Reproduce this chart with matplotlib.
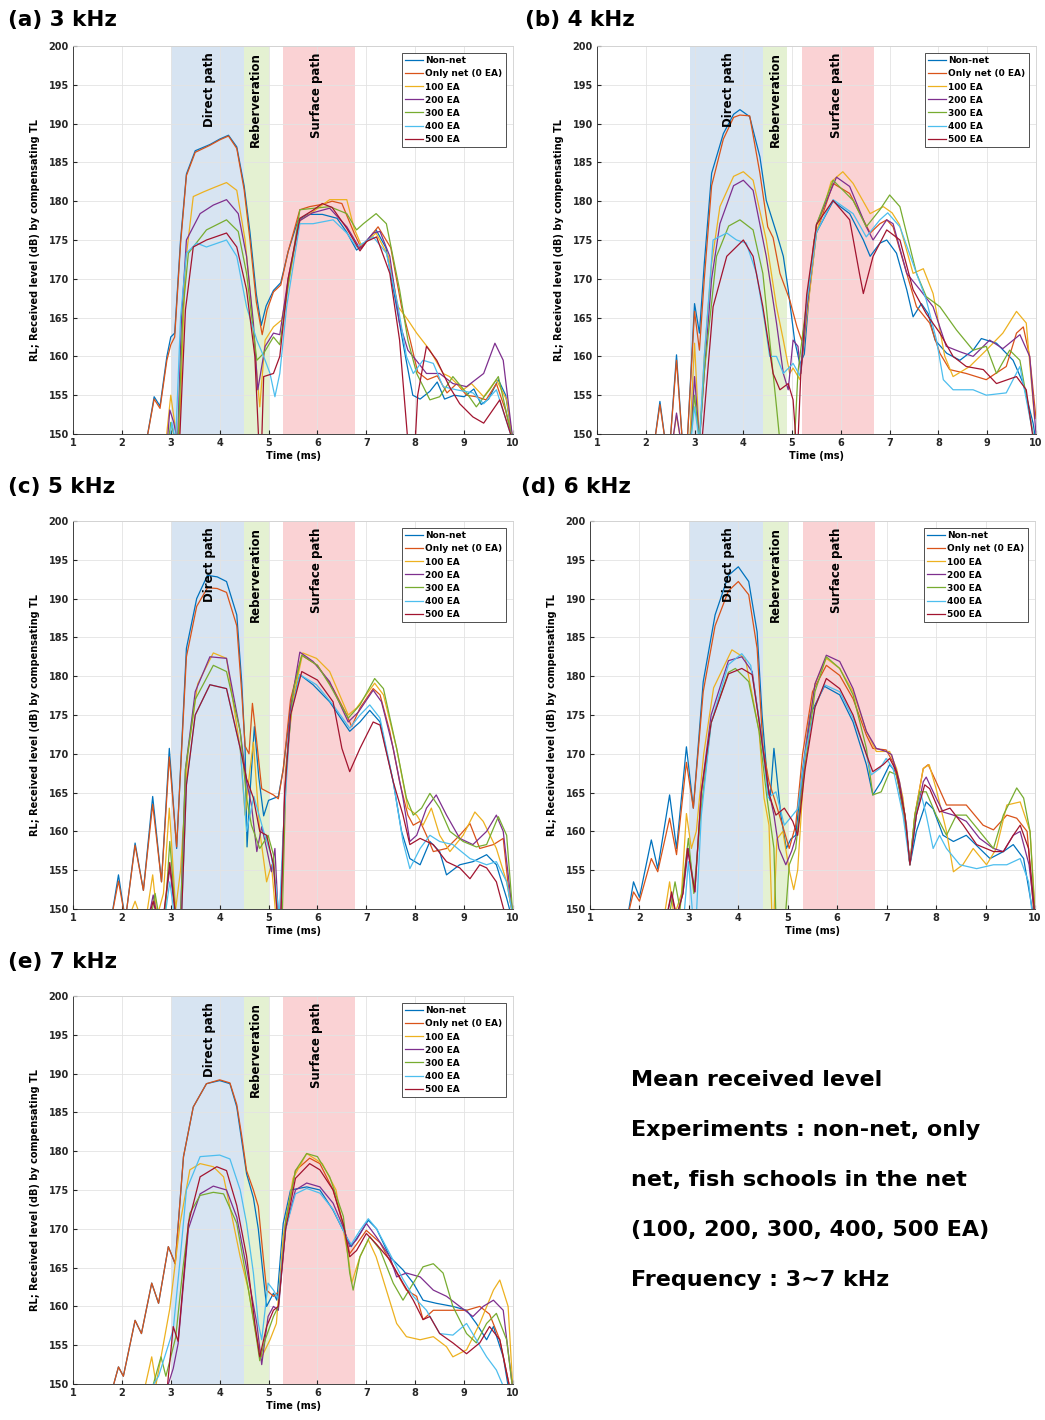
import matplotlib
matplotlib.use('Agg')
import matplotlib.pyplot as plt

# series names and MATLAB default colours
names = ['Non-net', 'Only net (0 EA)', '100 EA', '200 EA', '300 EA', '400 EA', '500 EA']
colors = ['#0072BD', '#D95319', '#EDB120', '#7E2F8E', '#77AC30', '#4DBEEE', '#A2142F']

# (time ms, RL dB); 149 means the curve leaves the axes
# ---- (a) 3 kHz
a_nonnet = [(2.5,149),(2.66,154.8),(2.78,153.6),(2.92,160),(3.0,162.5),(3.08,163),(3.2,175),(3.32,183.5),(3.5,186.5),(3.8,187.3),(4.0,188),(4.18,188.5),(4.35,187),(4.5,182),(4.62,176),(4.75,168),(4.85,164),(4.95,166.5),(5.1,168.5),(5.25,169.5),(5.4,173.5),(5.6,177.5),(5.8,178.3),(6.1,178.3),(6.4,177.8),(6.6,176),(6.8,173.7),(6.95,174.5),(7.2,176.3),(7.4,174),(7.6,167),(7.8,160),(7.95,155),(8.1,154.5),(8.3,155.5),(8.45,156.7),(8.6,154.5),(8.8,155),(9.0,154.8),(9.2,155.8),(9.35,153.8),(9.5,154.5),(9.7,157),(9.85,155),(10.0,149)]
a_onlynet = [(2.5,149),(2.66,154.5),(2.78,153.3),(2.92,159.5),(3.0,161.5),(3.08,162.5),(3.2,174.5),(3.32,183.3),(3.5,186.3),(3.8,187.2),(4.0,187.9),(4.18,188.4),(4.35,186.8),(4.5,181.5),(4.62,175),(4.75,167),(4.87,162.8),(4.97,166),(5.1,168.3),(5.25,169.2),(5.4,173.5),(5.64,178.9),(5.84,179.3),(6.1,179.6),(6.3,180),(6.5,179.7),(6.75,175.9),(6.9,173.9),(7.14,175.9),(7.24,176.7),(7.5,174),(7.72,166.4),(7.9,162),(8.05,158),(8.25,157),(8.45,157.5),(8.65,155.3),(8.85,156.5),(9.05,155),(9.25,154.8),(9.45,154.4),(9.66,156.5),(9.85,153),(10.0,149)]
a_100 = [(2.9,149),(3.0,155),(3.1,150.5),(3.17,149),(3.3,172),(3.46,180.6),(3.67,181.2),(3.9,181.8),(4.14,182.4),(4.35,181.4),(4.52,175),(4.65,166.4),(4.76,157.8),(4.82,153.5),(4.93,162.1),(5.1,163.8),(5.27,164.7),(5.44,170.7),(5.64,177.5),(5.9,178.6),(6.25,180.2),(6.6,180.2),(6.75,176.5),(6.9,174.3),(7.2,175.9),(7.45,172.9),(7.65,166.4),(7.85,164.7),(8.03,163),(8.3,160.8),(8.57,157.8),(8.7,157.4),(8.98,155.7),(9.15,156.5),(9.4,154.8),(9.66,157),(9.87,154.4),(10.0,149)]
a_200 = [(2.93,149),(2.98,153.1),(3.06,151.5),(3.14,149),(3.22,165),(3.32,175),(3.6,178.4),(3.87,179.5),(4.14,180.2),(4.38,178.4),(4.55,172.9),(4.69,164.3),(4.78,155.7),(4.93,161.3),(5.1,163),(5.23,162.8),(5.4,170),(5.64,177.5),(5.9,178.5),(6.25,179.1),(6.6,176.7),(6.87,173.9),(7.14,175.9),(7.28,176.1),(7.48,172.9),(7.68,164.3),(7.85,160.8),(8.02,159.5),(8.23,157.8),(8.5,157.8),(8.77,156.5),(9.05,156.1),(9.4,157.8),(9.63,161.7),(9.8,159.5),(10.0,149)]
a_300 = [(2.95,149),(3.0,151.5),(3.1,149),(3.15,149),(3.25,166),(3.36,173.3),(3.73,176.3),(4.14,177.6),(4.38,176.1),(4.55,170.7),(4.76,159.5),(4.9,160.4),(5.1,162.5),(5.23,161.5),(5.4,169),(5.64,178.9),(6.25,179.3),(6.6,178.4),(6.8,176.3),(6.94,177.1),(7.2,178.4),(7.41,177.1),(7.68,168.6),(7.85,162.1),(8.03,157.8),(8.3,154.4),(8.5,154.8),(8.77,157.4),(9.05,155.3),(9.25,153.5),(9.52,155.7),(9.7,157.4),(10.0,149)]
a_400 = [(2.98,149),(3.02,151.5),(3.1,149),(3.2,165),(3.32,173.3),(3.53,174.6),(3.73,174.1),(4.14,175),(4.35,172.9),(4.55,166.4),(4.76,162.1),(4.9,160),(5.03,157.8),(5.13,154.8),(5.23,157.8),(5.37,166.4),(5.64,177.1),(5.91,177.1),(6.32,177.6),(6.6,175.9),(6.8,174.1),(7.14,175.4),(7.41,173.3),(7.65,166.4),(7.82,160),(7.96,157.8),(8.16,159.5),(8.37,159.1),(8.57,156.1),(8.84,155.7),(9.18,155.3),(9.4,153.9),(9.66,155.7),(10.0,149)]
a_500 = [(3.18,149),(3.3,166),(3.46,174.1),(3.73,175),(4.14,175.9),(4.35,174.1),(4.55,168.6),(4.72,160),(4.8,149),(4.86,149),(4.9,157.4),(5.1,157.8),(5.23,160),(5.4,170),(5.64,177.8),(5.9,178.8),(6.1,179.7),(6.3,179.2),(6.6,176.5),(6.87,173.6),(7.0,174.8),(7.21,175.4),(7.48,170.7),(7.68,162.1),(7.85,149),(8.0,149),(8.05,155),(8.23,161.3),(8.44,159.5),(8.7,156.1),(8.91,153.9),(9.18,152.2),(9.4,151.4),(9.73,154.4),(10.0,149)]

# ---- (b) 4 kHz
b_nonnet = [(2.18,149),(2.29,154.2),(2.4,149),(2.5,149),(2.63,160.2),(2.75,149),(2.85,149),(3.0,166.8),(3.1,163),(3.2,172),(3.35,183.6),(3.59,188.7),(3.8,191.2),(3.93,191.8),(4.13,190.9),(4.34,185.7),(4.47,180.1),(4.68,175.9),(4.82,172.9),(4.92,168.6),(5.05,162.1),(5.16,159),(5.25,160.3),(5.35,168),(5.5,176),(5.84,180),(6.18,178.4),(6.46,175),(6.6,172.9),(6.8,174.6),(6.94,175),(7.14,173.3),(7.35,168.6),(7.48,165.1),(7.65,166.8),(7.79,165.5),(7.93,162.1),(8.17,160.4),(8.44,159.5),(8.71,160.8),(8.88,162.3),(9.19,161.7),(9.53,159.5),(9.74,156.5),(9.94,151.4),(10.0,149)]
b_onlynet = [(2.18,149),(2.29,153.8),(2.4,149),(2.5,149),(2.63,159.5),(2.75,149),(2.85,149),(3.0,165.8),(3.1,160.8),(3.2,170),(3.35,182),(3.59,188),(3.8,190.8),(3.93,191.1),(4.13,191),(4.34,183.6),(4.5,176.7),(4.61,175.3),(4.75,170.7),(4.95,167.3),(5.1,163.8),(5.2,162),(5.3,166),(5.45,175),(5.84,182.3),(6.18,181),(6.46,177.6),(6.6,175.9),(6.8,177.1),(6.94,177.6),(7.07,176.7),(7.35,170.7),(7.55,166.4),(7.82,164.3),(8.03,160.4),(8.23,158.3),(8.57,157.8),(8.98,157),(9.39,158.7),(9.6,163),(9.74,163.8),(9.87,160),(10.0,152)]
b_100 = [(2.55,149),(2.63,152.4),(2.72,149),(2.9,149),(3.0,161.7),(3.1,149),(3.2,160),(3.35,172),(3.52,179.3),(3.8,183.2),(4.0,183.8),(4.2,182.7),(4.47,175),(4.68,166.4),(4.82,162.1),(4.95,157.8),(5.02,158.5),(5.16,157),(5.3,165),(5.5,176),(5.8,182.5),(6.04,183.8),(6.25,182.3),(6.6,178.4),(6.87,179.3),(7.05,178.5),(7.2,177),(7.48,170.7),(7.69,171.3),(7.89,168.1),(8.13,160),(8.3,157.4),(8.64,158.7),(8.98,160.8),(9.32,163),(9.6,165.8),(9.8,164.3),(9.97,152)]
b_200 = [(2.55,149),(2.63,152.7),(2.72,149),(2.92,149),(3.0,157.4),(3.1,149),(3.2,158),(3.35,170),(3.52,177.1),(3.8,182),(4.0,182.7),(4.2,181.4),(4.47,172.9),(4.68,164.3),(4.82,157.8),(4.92,155.7),(5.02,162.1),(5.12,161.3),(5.18,157.8),(5.3,166),(5.5,177),(5.91,183.1),(6.18,181.9),(6.52,176.7),(6.66,175),(6.94,177.6),(7.07,177.1),(7.35,170.7),(7.62,168.6),(7.89,166.4),(8.16,161.3),(8.44,160.6),(8.71,160),(9.05,162.1),(9.32,161),(9.67,162.8),(9.87,160),(10.0,150)]
b_300 = [(2.92,149),(3.0,155),(3.1,149),(3.2,158),(3.45,172.9),(3.7,176.8),(3.93,177.6),(4.2,176.3),(4.4,170.7),(4.54,162.1),(4.68,153.5),(4.75,149),(5.05,149),(5.12,158),(5.3,167),(5.5,177),(5.84,182.7),(6.25,180.1),(6.52,176.7),(6.8,178.9),(7.0,180.8),(7.21,179.3),(7.55,170.7),(7.75,167.7),(8.03,166.4),(8.37,163.4),(8.71,160.8),(8.98,161.3),(9.19,157.8),(9.46,160.8),(9.67,159.5),(9.97,149)]
b_400 = [(2.92,149),(3.0,153.5),(3.1,149),(3.2,160),(3.38,175),(3.66,175.9),(3.86,175),(4.06,174.6),(4.27,170.7),(4.44,164.3),(4.54,160),(4.68,160),(4.82,157.8),(5.02,159.1),(5.16,157.5),(5.3,167),(5.5,176),(5.84,180.2),(6.25,178.4),(6.52,175.4),(6.8,177.6),(6.96,178.5),(7.21,176.7),(7.55,170.7),(7.75,167.3),(7.96,162.1),(8.1,157),(8.3,155.7),(8.71,155.7),(8.98,155),(9.39,155.3),(9.67,158.7),(9.97,149)]
b_500 = [(3.15,149),(3.38,166.4),(3.66,172.9),(4.0,175),(4.2,172.9),(4.4,166.4),(4.61,157.8),(4.75,155.7),(4.92,156.5),(5.02,154.4),(5.08,149),(5.12,149),(5.18,158),(5.3,168),(5.5,177),(5.84,180.1),(6.18,177.6),(6.38,170.7),(6.46,168.1),(6.66,172.9),(6.94,176.3),(7.21,175),(7.48,168.6),(7.75,165.5),(8.03,163),(8.3,160),(8.57,158.7),(8.92,158.3),(9.19,156.5),(9.6,157.4),(9.8,155.7),(9.95,149)]

# ---- (c) 5 kHz
c_nonnet = [(1.79,149),(1.93,154.4),(2.06,149),(2.1,150),(2.27,158.5),(2.44,152.4),(2.63,164.5),(2.81,153.5),(2.97,170.7),(3.12,157.8),(3.32,183.6),(3.53,190),(3.75,193),(3.95,192.8),(4.14,192.2),(4.35,187.9),(4.45,179.3),(4.52,170.7),(4.56,158),(4.62,165),(4.71,173.5),(4.8,167),(4.9,162),(5.0,164),(5.2,164.5),(5.3,168),(5.45,176),(5.64,180.2),(5.91,178.9),(6.25,176.7),(6.66,172.9),(6.87,174.1),(7.07,175.6),(7.28,174.1),(7.55,166.4),(7.72,160),(7.89,156.5),(8.1,155.7),(8.3,158.7),(8.5,157.4),(8.64,154.4),(8.91,155.7),(9.18,156.1),(9.46,157),(9.66,155.7),(9.87,151.4),(9.97,149)]
c_onlynet = [(1.79,149),(1.93,153.6),(2.06,149),(2.1,150),(2.27,158.2),(2.44,152.4),(2.63,163.5),(2.81,153.5),(2.97,169.6),(3.12,158),(3.32,182.5),(3.53,189),(3.75,191.4),(3.95,191.3),(4.14,190.8),(4.35,186.5),(4.45,178),(4.52,171),(4.6,170),(4.67,176.5),(4.75,172),(4.86,165.5),(5.1,164.7),(5.2,164.2),(5.3,168),(5.45,177),(5.68,182.7),(6.0,181.4),(6.32,178.4),(6.6,175),(6.7,173.5),(6.87,175.9),(7.14,178.4),(7.28,177.6),(7.48,172.9),(7.68,166.4),(7.85,162.1),(7.96,160.8),(8.1,161.3),(8.23,159.5),(8.37,157.4),(8.64,157.8),(8.91,159.5),(9.12,161),(9.32,157.8),(9.6,158.3),(9.8,159.1),(9.93,151.4),(10.0,149)]
c_100 = [(2.15,149),(2.27,151),(2.38,149),(2.5,149),(2.63,154.4),(2.72,149),(2.85,152),(2.97,163),(3.1,150),(3.2,155),(3.35,170),(3.55,179),(3.87,183),(4.14,182.3),(4.42,170.7),(4.52,162.1),(4.62,168),(4.69,171.5),(4.82,160),(4.96,153.5),(5.06,155.7),(5.15,149),(5.25,149),(5.35,168),(5.5,177),(5.7,183),(5.98,182.3),(6.25,180.6),(6.63,175),(6.8,175.9),(7.17,179.1),(7.35,177.6),(7.62,170.7),(7.85,163),(8.03,162.1),(8.16,160.8),(8.33,163),(8.5,159.5),(8.71,157.4),(8.98,159.5),(9.22,162.5),(9.39,161.3),(9.66,157.8),(9.87,153.5),(10.0,149)]
c_200 = [(2.55,149),(2.64,151.8),(2.72,149),(2.85,149),(2.98,155.2),(3.1,149),(3.2,149),(3.3,168),(3.5,178),(3.8,182.5),(4.14,182.3),(4.42,172.9),(4.55,166.4),(4.65,163.4),(4.76,157.4),(4.86,160.6),(4.96,157.8),(5.06,154.8),(5.13,157.8),(5.2,149),(5.25,149),(5.33,165),(5.45,176),(5.64,183.1),(5.91,181.9),(6.25,179.3),(6.63,174.1),(6.84,175.4),(7.14,178.2),(7.31,176.7),(7.55,170.7),(7.75,164.3),(7.89,158.7),(8.03,159.5),(8.23,163),(8.43,164.7),(8.64,162.1),(8.91,159.1),(9.18,158.3),(9.46,160),(9.66,162.1),(9.8,160),(10.0,149)]
c_300 = [(2.6,149),(2.68,152),(2.76,149),(2.88,149),(2.98,158.7),(3.1,149),(3.2,149),(3.3,168),(3.5,177),(3.87,181.4),(4.14,180.6),(4.42,172.9),(4.55,164.3),(4.65,160.8),(4.82,157.8),(4.99,159.5),(5.1,157),(5.18,149),(5.28,149),(5.36,168),(5.5,178),(5.68,182.7),(6.0,181.4),(6.25,178.9),(6.63,174.6),(6.87,176.3),(7.17,179.7),(7.35,178.4),(7.62,170.7),(7.82,164.3),(7.96,162.1),(8.13,163),(8.3,164.9),(8.5,163),(8.71,160),(8.98,158.7),(9.25,158),(9.46,158.3),(9.7,161.9),(9.87,159.5),(10.0,149)]
c_400 = [(2.88,149),(2.98,153.5),(3.08,149),(3.22,149),(3.32,166),(3.5,175),(3.8,178.9),(4.14,178.4),(4.42,170.7),(4.55,160),(4.7,164.5),(4.9,160),(5.05,157),(5.15,153),(5.22,149),(5.3,160),(5.45,175),(5.64,180.2),(5.98,178.9),(6.32,176.3),(6.66,173.3),(6.87,175),(7.07,176.3),(7.28,174.6),(7.55,166.4),(7.75,158.7),(7.89,155.2),(8.1,157.8),(8.3,159.5),(8.5,158.7),(8.77,158.3),(9.12,156.5),(9.46,155.7),(9.66,156.1),(9.87,153.5),(10.0,149)]
c_500 = [(2.55,149),(2.64,151),(2.72,149),(2.85,149),(2.98,156),(3.1,149),(3.22,149),(3.32,166),(3.5,175),(3.8,178.9),(4.14,178.4),(4.42,170.7),(4.55,166.8),(4.69,164.3),(4.82,160),(4.96,159.5),(5.1,155.7),(5.18,149),(5.25,149),(5.33,165),(5.45,175),(5.68,180.6),(6.0,179.5),(6.32,176.7),(6.5,170.7),(6.66,167.7),(6.87,170.7),(7.14,174.1),(7.28,173.7),(7.55,166.4),(7.75,162.1),(7.89,158.3),(8.1,159.1),(8.37,158.3),(8.64,156.1),(8.91,155.3),(9.12,153.9),(9.32,155.7),(9.46,155.3),(9.66,153.5),(9.85,149)]

# ---- (d) 6 kHz
d_nonnet = [(1.76,149),(1.88,153.5),(2.0,151.5),(2.24,158.9),(2.37,155.2),(2.61,164.7),(2.75,157.8),(2.95,170.9),(3.09,163),(3.29,179.3),(3.53,187.9),(3.8,193),(4.0,194.1),(4.21,192.2),(4.38,185.7),(4.48,175),(4.59,166.4),(4.64,164),(4.72,170.7),(4.86,162.1),(4.97,157.8),(5.06,159),(5.16,159.5),(5.3,168),(5.45,175),(5.74,178.7),(6.05,177.6),(6.32,174.1),(6.59,168.6),(6.72,164.7),(6.89,166.4),(7.06,168.6),(7.2,167.5),(7.4,160),(7.47,155.7),(7.6,160),(7.8,163.8),(7.94,162.9),(8.14,159.5),(8.35,158.7),(8.61,159.5),(8.88,157.8),(9.09,156.5),(9.36,157.4),(9.56,158.3),(9.77,156.5),(9.97,149)]
d_onlynet = [(1.76,149),(1.88,152.2),(2.0,151),(2.24,156.5),(2.37,154.8),(2.61,161.7),(2.75,157),(2.95,168.9),(3.09,163),(3.29,178),(3.53,186.5),(3.8,191),(4.0,192.2),(4.21,190.5),(4.38,183.6),(4.5,170.7),(4.62,166.4),(4.73,164.2),(4.83,162.1),(4.93,160),(5.03,157.8),(5.16,160.8),(5.3,170),(5.5,178),(5.78,181.4),(6.05,180.1),(6.32,177.1),(6.59,172.4),(6.72,170.7),(6.99,170.5),(7.13,168.9),(7.26,165.5),(7.4,160),(7.47,155.7),(7.57,162.1),(7.74,168.1),(7.84,168.6),(8.0,166.4),(8.21,163.4),(8.61,163.4),(8.95,160.8),(9.16,160.2),(9.43,162.1),(9.63,161.7),(9.84,160),(9.97,150)]
d_100 = [(2.5,149),(2.61,153.5),(2.7,149),(2.85,152),(2.95,162.3),(3.05,157.8),(3.15,160),(3.3,170),(3.5,178.5),(3.87,183.4),(4.14,182.3),(4.42,172.9),(4.52,164.3),(4.62,160.8),(4.68,149),(4.72,149),(4.78,159),(4.9,160),(5.03,155),(5.12,152.5),(5.2,155),(5.35,170),(5.55,179),(5.78,182.3),(6.05,181),(6.32,178),(6.59,172.9),(6.79,170.3),(7.06,170.3),(7.2,168.1),(7.33,164.3),(7.47,155.7),(7.57,162.1),(7.74,168.1),(7.86,168.6),(8.0,165.5),(8.21,160),(8.35,154.8),(8.54,155.7),(8.75,157.8),(9.02,155.7),(9.22,157.8),(9.43,163.4),(9.7,163.8),(9.9,160),(10.0,150)]
d_200 = [(2.55,149),(2.65,151.8),(2.75,149),(2.88,152),(2.99,157.8),(3.12,152.2),(3.25,165),(3.45,175),(3.8,182),(4.07,182.5),(4.28,180.6),(4.45,172.9),(4.58,166.4),(4.72,162.1),(4.82,157.8),(4.96,155.7),(5.08,157.5),(5.2,160),(5.35,170),(5.55,179),(5.78,182.7),(6.05,181.9),(6.32,178.4),(6.59,172.9),(6.79,170.7),(6.99,170.3),(7.1,169.9),(7.26,166.4),(7.4,160.8),(7.47,155.7),(7.6,162.1),(7.74,166.4),(7.8,167),(7.94,165.1),(8.14,162.5),(8.35,162.1),(8.61,161.3),(8.88,159.1),(9.16,157.8),(9.36,157.4),(9.56,159.5),(9.7,160),(9.88,155.7),(10.0,149)]
d_300 = [(2.6,149),(2.72,153.5),(2.82,150),(2.99,159.1),(3.1,152),(3.25,163),(3.45,174),(3.8,180.5),(3.94,181),(4.21,179.3),(4.42,172.9),(4.58,164.3),(4.72,157.8),(4.76,149),(4.95,149),(5.03,155.7),(5.16,157.8),(5.3,166),(5.55,178),(5.78,182.5),(6.05,181),(6.32,177.6),(6.59,170.7),(6.72,164.7),(6.89,165.1),(7.06,167.7),(7.2,167.3),(7.37,162.1),(7.47,155.7),(7.57,162.1),(7.67,165.1),(7.8,165.1),(8.0,162.1),(8.21,159.5),(8.41,162.1),(8.61,162.1),(8.88,160),(9.16,157.8),(9.36,162.1),(9.63,165.6),(9.77,164.3),(9.9,160),(10.0,149)]
d_400 = [(2.9,149),(2.99,156.1),(3.08,149),(3.15,149),(3.25,162),(3.45,174),(3.8,181.5),(4.07,182.9),(4.25,181.4),(4.46,172.9),(4.6,164.3),(4.76,165.1),(4.93,160.8),(5.1,162.1),(5.2,162.9),(5.35,170),(5.55,176),(5.74,178.9),(6.05,178),(6.32,174.6),(6.59,169.9),(6.69,167.3),(6.86,168.1),(6.99,169.4),(7.13,168.1),(7.33,162.1),(7.47,155.7),(7.6,162.1),(7.7,164.7),(7.8,162.1),(7.94,157.8),(8.07,159.5),(8.21,157.8),(8.48,155.7),(8.82,155.2),(9.16,155.7),(9.43,155.7),(9.7,156.5),(9.87,153.5),(9.95,149)]
d_500 = [(2.55,149),(2.65,152.2),(2.75,149),(2.88,152),(2.97,157.8),(3.12,152.2),(3.25,165),(3.45,174),(3.8,180.3),(4.07,181),(4.28,180.2),(4.45,172.9),(4.62,164.8),(4.76,162.1),(4.93,163),(5.1,161.3),(5.2,159.5),(5.35,168),(5.55,176),(5.78,179.7),(6.05,178.4),(6.32,175),(6.59,169.9),(6.72,167.7),(6.93,168.6),(7.06,169.4),(7.2,167.7),(7.37,162.1),(7.47,155.7),(7.6,162.1),(7.77,166),(7.87,165.5),(8.07,162.5),(8.28,163),(8.55,160.8),(8.82,158.3),(9.16,157.4),(9.36,157.4),(9.56,159.5),(9.7,160.8),(9.87,157.8),(10.0,149)]

# ---- (e) 7 kHz
e_nonnet = [(1.79,149),(1.93,152.2),(2.03,151),(2.27,158.2),(2.4,156.5),(2.61,163),(2.75,160.4),(2.95,167.7),(3.09,165.5),(3.26,179.3),(3.46,185.7),(3.73,188.7),(4.0,189.1),(4.21,188.7),(4.35,185.7),(4.45,181.4),(4.55,177.1),(4.69,174),(4.79,170),(4.89,164),(4.96,160),(5.1,161.7),(5.17,160.8),(5.3,170.7),(5.45,175),(5.78,175.4),(6.05,175),(6.32,172.4),(6.59,169),(6.69,167.7),(6.87,169.4),(7.04,171.1),(7.21,170),(7.48,166.4),(7.75,164.7),(7.96,163),(8.16,160.8),(8.43,160.4),(8.77,160),(9.05,159.5),(9.25,157.8),(9.46,155.7),(9.6,157.4),(9.8,153.5),(9.92,149)]
e_onlynet = [(1.79,149),(1.93,152.2),(2.03,151),(2.27,158.2),(2.4,156.5),(2.61,163),(2.75,160.4),(2.95,167.7),(3.09,165.5),(3.26,179.3),(3.46,185.7),(3.73,188.7),(4.0,189.2),(4.21,188.8),(4.35,186),(4.45,182),(4.55,177.5),(4.69,175),(4.79,172.9),(4.89,166.4),(4.96,162.1),(5.1,161.3),(5.23,162),(5.35,171),(5.55,177.5),(5.84,179.1),(6.05,178.4),(6.32,175),(6.53,170.5),(6.66,166.8),(6.8,168),(7.0,169.8),(7.28,168.2),(7.55,165.1),(7.82,162.1),(8.03,161.3),(8.16,158.3),(8.37,159.5),(8.64,159.5),(9.05,159.5),(9.32,160),(9.52,159),(9.73,155.7),(9.95,149)]
e_100 = [(2.45,149),(2.61,153.5),(2.7,150),(2.98,159.7),(3.19,170.7),(3.39,177.6),(3.6,178.4),(3.87,178),(4.08,176.7),(4.28,170.7),(4.42,166.4),(4.59,162.1),(4.76,155.7),(4.86,153.5),(5.03,155.7),(5.16,157.8),(5.3,169),(5.5,176.5),(5.78,179.7),(6.1,178.4),(6.38,175),(6.63,166.4),(6.7,163),(6.87,166.4),(7.04,168.6),(7.2,166.4),(7.41,162.1),(7.62,157.8),(7.82,156.1),(8.1,155.7),(8.37,156.1),(8.64,154.8),(8.77,153.5),(9.05,154.4),(9.32,157.8),(9.6,162.1),(9.73,163.4),(9.9,160),(10.0,149)]
e_200 = [(2.9,149),(3.05,152),(3.15,155.2),(3.36,170),(3.6,174.5),(3.87,175.5),(4.14,175),(4.35,171.5),(4.55,165),(4.76,157.8),(4.86,152.5),(4.99,158.7),(5.1,160),(5.2,159.5),(5.35,170),(5.55,175),(5.78,175.9),(6.05,175.4),(6.32,173.3),(6.53,170.2),(6.66,167.7),(6.8,168.6),(7.0,170.7),(7.2,169),(7.48,166.4),(7.62,163.8),(7.82,164.3),(8.1,163.8),(8.37,162.1),(8.64,161.3),(8.91,160),(9.18,158.7),(9.39,160),(9.6,160.8),(9.8,159.5),(10.0,149)]
e_300 = [(2.6,149),(2.8,153.5),(2.9,151),(3.1,156),(3.25,165),(3.39,172),(3.6,174.3),(3.87,174.7),(4.08,174.5),(4.35,170.7),(4.59,162.1),(4.75,156),(4.82,153),(4.92,155.5),(5.1,158.7),(5.2,160),(5.35,171),(5.55,177.5),(5.78,179.7),(6.0,179.3),(6.25,176.7),(6.53,171.6),(6.66,164.3),(6.73,162.1),(6.87,166.4),(7.07,169),(7.28,167.3),(7.55,163),(7.75,160.8),(7.96,163),(8.16,165.1),(8.37,165.5),(8.57,164.3),(8.77,160),(9.05,156.5),(9.25,155.3),(9.46,157.8),(9.66,159.1),(9.87,155.7),(10.0,149)]
e_400 = [(2.55,149),(2.75,151),(2.92,154.4),(3.05,157),(3.19,166),(3.32,175),(3.6,179.3),(4.0,179.5),(4.21,179),(4.42,175),(4.55,170.7),(4.69,164.3),(4.79,157.8),(4.86,155.7),(4.99,163),(5.1,162.1),(5.2,161),(5.35,170),(5.55,174.5),(5.78,175.2),(6.05,174.6),(6.32,172.5),(6.59,169),(6.69,168),(6.87,169.8),(7.04,171.3),(7.21,170),(7.48,166.8),(7.75,163.5),(7.96,161.3),(8.23,159.5),(8.5,156.5),(8.77,156.3),(9.05,157.8),(9.25,155.7),(9.46,153.5),(9.66,151.8),(9.85,149)]
e_500 = [(2.92,149),(3.05,157.4),(3.15,155.5),(3.36,170.7),(3.6,176.7),(3.94,178),(4.14,177.5),(4.35,173),(4.55,166.5),(4.72,157.8),(4.82,153.5),(4.96,157.4),(5.1,159.5),(5.2,160),(5.35,170),(5.55,176.5),(5.84,178.4),(6.05,177.6),(6.32,175),(6.53,170.6),(6.66,166.4),(6.8,167.2),(7.0,169.4),(7.21,168),(7.48,166),(7.75,163),(7.96,160.8),(8.16,158.3),(8.3,158.7),(8.5,156.5),(8.77,155.3),(9.05,153.9),(9.32,155.3),(9.52,157.4),(9.73,155.7),(9.95,149)]

# shaded time windows (direct, reverberation, surface) per panel
spans_std = [(3.0, 4.5), (4.5, 5.0), (5.3, 6.77)]
spans_b = [(2.9, 4.4), (4.4, 4.9), (5.2, 6.68)]
label_x_std = [3.8, 4.74, 5.99]
label_x_b = [3.7, 4.65, 5.9]

span_colors = ['#d7e4f2', '#e4f1d2', '#fad2d4']
span_labels = ['Direct path', 'Reberveration', 'Surface path']

panels = [
    ('(a) 3 kHz', [a_nonnet, a_onlynet, a_100, a_200, a_300, a_400, a_500], spans_std, label_x_std),
    ('(b) 4 kHz', [b_nonnet, b_onlynet, b_100, b_200, b_300, b_400, b_500], spans_b, label_x_b),
    ('(c) 5 kHz', [c_nonnet, c_onlynet, c_100, c_200, c_300, c_400, c_500], spans_std, label_x_std),
    ('(d) 6 kHz', [d_nonnet, d_onlynet, d_100, d_200, d_300, d_400, d_500], spans_std, label_x_std),
    ('(e) 7 kHz', [e_nonnet, e_onlynet, e_100, e_200, e_300, e_400, e_500], spans_std, label_x_std),
]

# axes boxes in pixels (left, top, right, bottom) and title anchors (px)
W, H = 1045, 1420
boxes = [(73, 46, 513, 434), (597, 46, 1036, 434),
         (73, 521, 513, 909), (590, 521, 1035, 909),
         (73, 996, 513, 1384)]
title_pos = [(8, 20), (525, 20), (8, 487), (521, 487), (8, 962)]

fig = plt.figure(figsize=(W / 100, H / 100), dpi=100)

for (title, series, spans, lx), (x0, y0, x1, y1), (tx, ty) in zip(panels, boxes, title_pos):
    ax = fig.add_axes([x0 / W, 1 - y1 / H, (x1 - x0) / W, (y1 - y0) / H])
    for (s0, s1), sc in zip(spans, span_colors):
        ax.axvspan(s0, s1, color=sc, lw=0, zorder=0)
    for pts, name, c in zip(series, names, colors):
        ax.plot([p[0] for p in pts], [p[1] for p in pts], color=c, lw=0.9, label=name, zorder=3)
    for x, lab in zip(lx, span_labels):
        ax.text(x, 199.2, lab, rotation=90, ha='center', va='top', fontsize=8.5,
                fontweight='bold', zorder=4)
    ax.set_xlim(1, 10)
    ax.set_ylim(150, 200)
    ax.set_xticks(range(1, 11))
    ax.set_yticks(range(150, 201, 5))
    ax.grid(True, color='#e3e3e3', lw=0.6, zorder=1)
    ax.set_axisbelow(True)
    ax.tick_params(direction='in', length=3, labelsize=7, pad=3, colors='#262626')
    for lbl in ax.get_xticklabels() + ax.get_yticklabels():
        lbl.set_fontweight('bold')
    for side in ['left', 'bottom']:
        ax.spines[side].set_color('#262626')
        ax.spines[side].set_linewidth(0.6)
    for side in ['top', 'right']:
        ax.spines[side].set_color('#d0d0d0')
        ax.spines[side].set_linewidth(0.6)
    ax.set_xlabel('Time (ms)', fontsize=7, fontweight='bold', labelpad=2)
    ax.set_ylabel('RL; Received level (dB) by compensating TL', fontsize=7,
                  fontweight='bold', labelpad=6)
    leg = ax.legend(loc='upper right', prop={'weight': 'bold', 'size': 6.5},
                    handlelength=2.0, handletextpad=0.3, labelspacing=0.45,
                    borderpad=0.35, borderaxespad=0.8, fancybox=False, framealpha=1)
    leg.get_frame().set_edgecolor('#333333')
    leg.get_frame().set_linewidth(0.6)
    fig.text(tx / W, 1 - ty / H, title, fontsize=15.5, fontweight='bold', ha='left', va='center')

notes = ['Mean received level',
         'Experiments : non-net, only',
         'net, fish schools in the net',
         '(100, 200, 300, 400, 500 EA)',
         'Frequency : 3~7 kHz']
for i, line in enumerate(notes):
    fig.text(631 / W, 1 - (1080 + 50 * i) / H, line, fontsize=16, fontweight='bold',
             ha='left', va='center')

fig.savefig('out.png', dpi=100)
